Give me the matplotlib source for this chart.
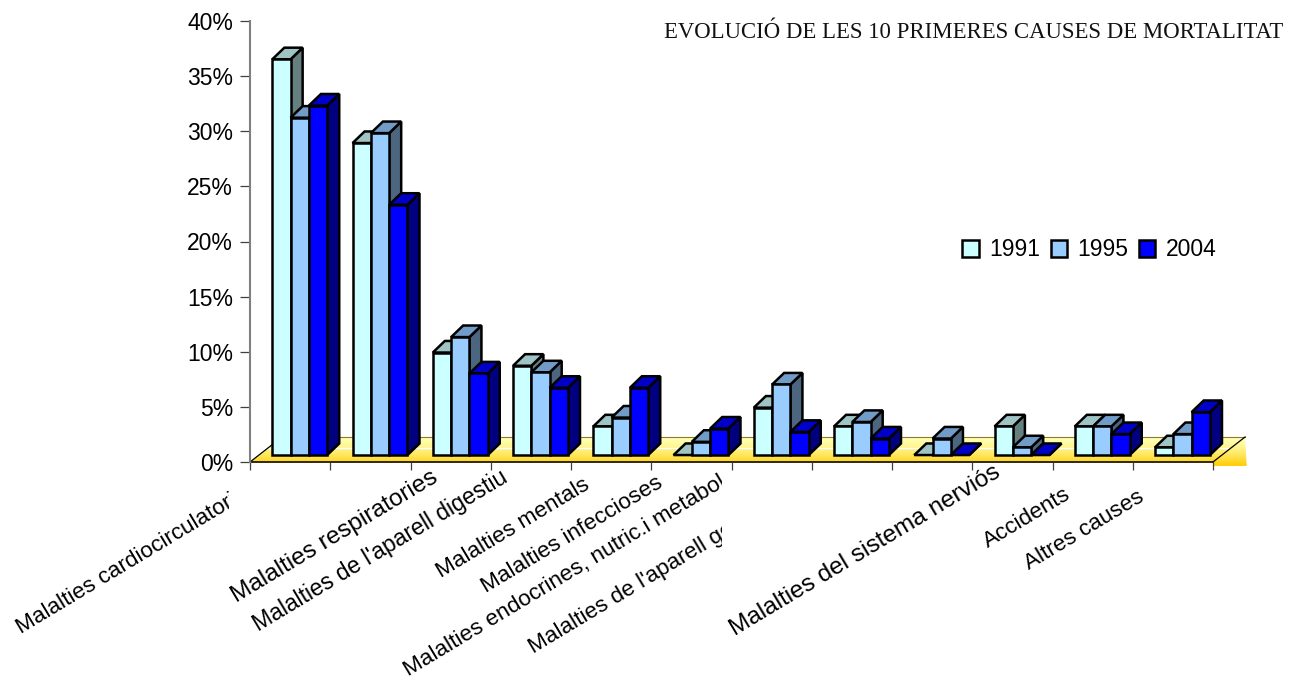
import numpy as np
import matplotlib
matplotlib.use('Agg')
import matplotlib.pyplot as plt
from matplotlib.patches import Patch, Polygon
from matplotlib.transforms import Bbox

categories = ["Malalties cardiocirculatori", "Malalties respiratories",
              "Malalties de l'aparell digestiu", "Malalties mentals",
              "Malalties infeccioses", "Malalties endocrines, nutric.i metabol",
              "Malalties de l'aparell genitourinari", "",
              "Malalties del sistema nerviós", "", "Accidents", "Altres causes"]
v1991 = [35.9, 28.3, 9.3, 8.1, 2.6, 0.0, 4.3, 2.6, 0.0, 2.6, 2.6, 0.7]
v1995 = [30.6, 29.2, 10.7, 7.5, 3.4, 1.2, 6.4, 3.0, 1.5, 0.7, 2.6, 1.9]
v2004 = [31.7, 22.7, 7.4, 6.1, 6.1, 2.4, 2.1, 1.5, 0.0, 0.0, 1.9, 3.9]
years = ['1991', '1995', '2004']
y_ticks = [0, 5, 10, 15, 20, 25, 30, 35, 40]

W, H = 1297, 682
plt.rcParams['font.family'] = 'Liberation Sans'

fig = plt.figure(figsize=(W / 100, H / 100), dpi=100)
ax = fig.add_axes([250 / W, 1 - 462 / H, 963 / W, 441 / H])

# colores de cara frontal, superior y lateral
front = ['#CCFFFF', '#99CCFF', '#0000FF']
top = ['#A0C4C4', '#729CC8', '#0000C8']
side = ['#668080', '#4D6680', '#000080']

# suelo con degradado
floor = [(0, 0), (0.4, 2.27), (12.4, 2.27), (12.42, -0.36), (12, -0.36), (12, 0)]
t_grad = (np.linspace(0, 1, 64) ** 1.5)[:, None, None]
grad = t_grad * np.array([[[1.0, 0.80, 0.0]]]) + (1 - t_grad) * np.array([[[1.0, 1.0, 0.70]]])
im = ax.imshow(grad, extent=[0, 12.42, -0.36, 2.27], aspect='auto', origin='upper', zorder=1)
clip = Polygon(floor, transform=ax.transData, fc='none', ec='none', clip_on=False)
ax.add_patch(clip)
im.set_clip_box(fig.bbox)
im.set_clip_path(clip)
ax.set_xlim(0, 12)
ax.set_ylim(0, 40)
ax.plot([0.1, 12.2], [1.27, 1.27], color='white', lw=1, zorder=1.5, clip_on=False)
ax.plot([0.4, 12.4], [2.27, 2.27], color='#8a7a30', lw=0.8, zorder=1.5, clip_on=False)
ax.plot([0, 0.4], [0, 2.27], color='black', lw=0.9, zorder=1.5, clip_on=False)
ax.plot([12, 12.4], [0, 2.27], color='black', lw=0.9, zorder=1.5, clip_on=False)
ax.plot([0, 12], [0, 0], color='#201800', lw=1.3, zorder=1.5, clip_on=False)

# barras pseudo-3D
bar_w = 0.228
left0 = 0.278
dx, dy = 0.15, 1.05
base = 0.63
for s, vals in enumerate([v1991, v1995, v2004]):
    for i, v in enumerate(vals):
        x0 = i + left0 + s * bar_w
        x1 = x0 + bar_w
        y0 = base
        y1 = base + v
        kw = dict(ec='black', lw=1.8, joinstyle='miter', clip_on=False)
        ax.add_patch(Polygon([(x1, y0), (x1 + dx, y0 + dy), (x1 + dx, y1 + dy), (x1, y1)],
                             fc=side[s], zorder=2 + s * 0.1 + i, **kw))
        ax.add_patch(Polygon([(x0, y1), (x0 + dx, y1 + dy), (x1 + dx, y1 + dy), (x1, y1)],
                             fc=top[s], zorder=2 + s * 0.1 + i, **kw))
        if v > 0:
            ax.add_patch(Polygon([(x0, y0), (x1, y0), (x1, y1), (x0, y1)],
                                 fc=front[s], zorder=2.05 + s * 0.1 + i, **kw))

# ejes
for sp in ['top', 'right', 'bottom']:
    ax.spines[sp].set_visible(False)
ax.spines['left'].set_color('#808080')
ax.spines['left'].set_linewidth(1.5)
ax.set_yticks(y_ticks)
ax.set_yticklabels([f'{t}%' for t in y_ticks], fontsize=16.5, color='black')
ax.tick_params(axis='y', length=7.2, width=0.9, color='#404040', pad=5)
ax.set_xticks(range(13))
ax.set_xticklabels([])
ax.tick_params(axis='x', length=5.8, width=0.9, color='#404040')
ax.patch.set_alpha(0)

# etiquetas giradas (px de inicio de la línea base)
starts = [(21, 634), (236, 603), (258, 632), (441, 578), (486, 593), (408, 676),
          (533, 654), None, (735, 636), None, (988, 548), (1029, 570)]
clips = {0: 229, 5: 722, 6: 722}
sizes = [16.2, 17.6, 16.6, 16.2, 16.2, 16.2, 16.2, 0, 17.6, 0, 16.2, 16.2]
for i, lab in enumerate(categories):
    if not lab:
        continue
    t = fig.text(starts[i][0] / W, 1 - starts[i][1] / H, lab, fontsize=sizes[i], rotation=31,
                 rotation_mode='anchor', ha='left', va='baseline')
    if i in clips:
        t.set_clip_box(Bbox([[0, 0], [clips[i], H]]))
        t.set_clip_on(True)

fig.text(1283 / W, 1 - 38 / H, 'EVOLUCIÓ DE LES 10 PRIMERES CAUSES DE MORTALITAT',
         family='Liberation Serif', fontsize=16.4, ha='right', va='baseline', color='#111111')

handles = [Patch(fc=front[k], ec='black', lw=1.8, label=years[k]) for k in range(3)]
fig.legend(handles=handles, ncol=3, frameon=False, fontsize=16.5,
           loc='center left', bbox_to_anchor=(951 / W, 1 - 250 / H),
           handlelength=0.72, handleheight=0.7, handletextpad=0.45, columnspacing=0.45,
           borderaxespad=0, borderpad=0.5)

fig.savefig('out.png', dpi=100)
